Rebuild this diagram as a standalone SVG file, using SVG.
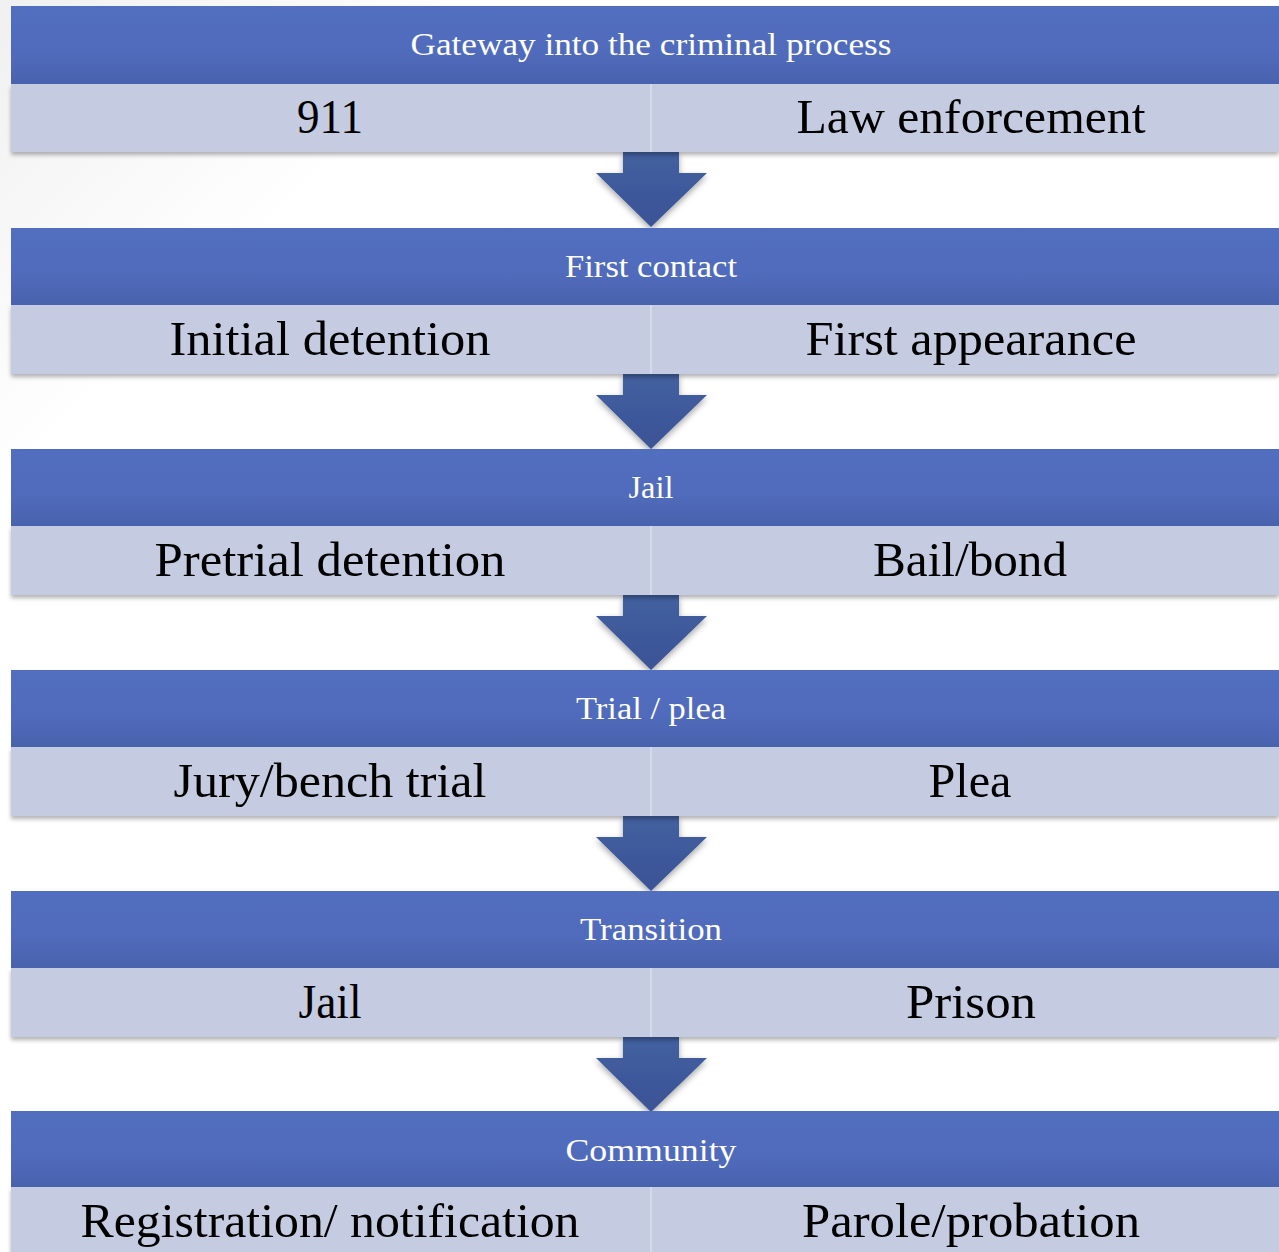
<svg xmlns="http://www.w3.org/2000/svg" width="1279" height="1252" viewBox="0 0 1279 1252">
<defs>
<linearGradient id="bg" x1="0" y1="0" x2="1" y2="1">
<stop offset="0" stop-color="#f0f0f0"/><stop offset="0.2" stop-color="#ffffff"/><stop offset="1" stop-color="#ffffff"/>
</linearGradient>
<linearGradient id="hdr" x1="0" y1="0" x2="0" y2="1">
<stop offset="0" stop-color="#526ebe"/><stop offset="0.6" stop-color="#506bbb"/><stop offset="1" stop-color="#4862ad"/>
</linearGradient>
<linearGradient id="arr" x1="0" y1="0" x2="0" y2="1">
<stop offset="0" stop-color="#43609f"/><stop offset="1" stop-color="#3a5396"/>
</linearGradient>
<filter id="sh" x="-5%" y="-20%" width="110%" height="150%">
<feDropShadow dx="0" dy="3" stdDeviation="2" flood-color="#000" flood-opacity="0.3"/>
</filter>
<filter id="ash" x="-20%" y="-20%" width="140%" height="150%">
<feDropShadow dx="0" dy="3" stdDeviation="3" flood-color="#000" flood-opacity="0.35"/>
</filter>
<path id="arrow" d="M623,0 H679 V21 H707 L651,75 L596,21 H623 Z"/>
</defs>
<style>
.hdr{fill:url(#hdr)}
.sub{fill:#c5cbe0}
.div{stroke:#d6dbea;stroke-width:2}
.ht{font-family:"Liberation Serif","DejaVu Serif",serif;font-size:32px;fill:#ffffff;text-anchor:middle}
.st{font-family:"Liberation Serif","DejaVu Serif",serif;font-size:48px;fill:#000000;text-anchor:middle}
.ar{fill:url(#arr);filter:url(#ash)}
</style>
<rect width="1279" height="1252" fill="url(#bg)"/>
<g id="connectors">
<use href="#arrow" class="ar" transform="translate(0,152)"/>
<use href="#arrow" class="ar" transform="translate(0,374)"/>
<use href="#arrow" class="ar" transform="translate(0,595)"/>
<use href="#arrow" class="ar" transform="translate(0,816)"/>
<use href="#arrow" class="ar" transform="translate(0,1037)"/>
</g>
<g id="n1">
<rect x="11" y="84" width="1268" height="68" class="sub" filter="url(#sh)"/>
<rect x="11" y="6" width="1268" height="78" class="hdr"/>
<line x1="651" y1="84" x2="651" y2="152" class="div"/>
<text x="651" y="55" class="ht" textLength="481" lengthAdjust="spacingAndGlyphs">Gateway into the criminal process</text>
<text x="330" y="133" class="st" textLength="66" lengthAdjust="spacingAndGlyphs">911</text>
<text x="971" y="133" class="st" textLength="349" lengthAdjust="spacingAndGlyphs">Law enforcement</text>
</g>
<g id="n2">
<rect x="11" y="305" width="1268" height="69" class="sub" filter="url(#sh)"/>
<rect x="11" y="228" width="1268" height="77" class="hdr"/>
<line x1="651" y1="305" x2="651" y2="374" class="div"/>
<text x="651" y="277" class="ht" textLength="172" lengthAdjust="spacingAndGlyphs">First contact</text>
<text x="330" y="355" class="st" textLength="321" lengthAdjust="spacingAndGlyphs">Initial detention</text>
<text x="971" y="355" class="st" textLength="331" lengthAdjust="spacingAndGlyphs">First appearance</text>
</g>
<g id="n3">
<rect x="11" y="526" width="1268" height="69" class="sub" filter="url(#sh)"/>
<rect x="11" y="449" width="1268" height="77" class="hdr"/>
<line x1="651" y1="526" x2="651" y2="595" class="div"/>
<text x="651" y="498" class="ht" textLength="45" lengthAdjust="spacingAndGlyphs">Jail</text>
<text x="330" y="576" class="st" textLength="351" lengthAdjust="spacingAndGlyphs">Pretrial detention</text>
<text x="970" y="576" class="st" textLength="194" lengthAdjust="spacingAndGlyphs">Bail/bond</text>
</g>
<g id="n4">
<rect x="11" y="747" width="1268" height="69" class="sub" filter="url(#sh)"/>
<rect x="11" y="670" width="1268" height="77" class="hdr"/>
<line x1="651" y1="747" x2="651" y2="816" class="div"/>
<text x="651" y="719" class="ht" textLength="150" lengthAdjust="spacingAndGlyphs">Trial / plea</text>
<text x="330" y="797" class="st" textLength="313" lengthAdjust="spacingAndGlyphs">Jury/bench trial</text>
<text x="970" y="797" class="st" textLength="83" lengthAdjust="spacingAndGlyphs">Plea</text>
</g>
<g id="n5">
<rect x="11" y="968" width="1268" height="69" class="sub" filter="url(#sh)"/>
<rect x="11" y="891" width="1268" height="77" class="hdr"/>
<line x1="651" y1="968" x2="651" y2="1037" class="div"/>
<text x="651" y="940" class="ht" textLength="142" lengthAdjust="spacingAndGlyphs">Transition</text>
<text x="330" y="1018" class="st" textLength="63" lengthAdjust="spacingAndGlyphs">Jail</text>
<text x="971" y="1018" class="st" textLength="130" lengthAdjust="spacingAndGlyphs">Prison</text>
</g>
<g id="n6">
<rect x="11" y="1187" width="1268" height="69" class="sub" filter="url(#sh)"/>
<rect x="11" y="1111" width="1268" height="76" class="hdr"/>
<line x1="651" y1="1187" x2="651" y2="1252" class="div"/>
<text x="651" y="1161" class="ht" textLength="171" lengthAdjust="spacingAndGlyphs">Community</text>
<text x="330" y="1237" class="st" textLength="499" lengthAdjust="spacingAndGlyphs">Registration/ notification</text>
<text x="971" y="1237" class="st" textLength="338" lengthAdjust="spacingAndGlyphs">Parole/probation</text>
</g>
</svg>
